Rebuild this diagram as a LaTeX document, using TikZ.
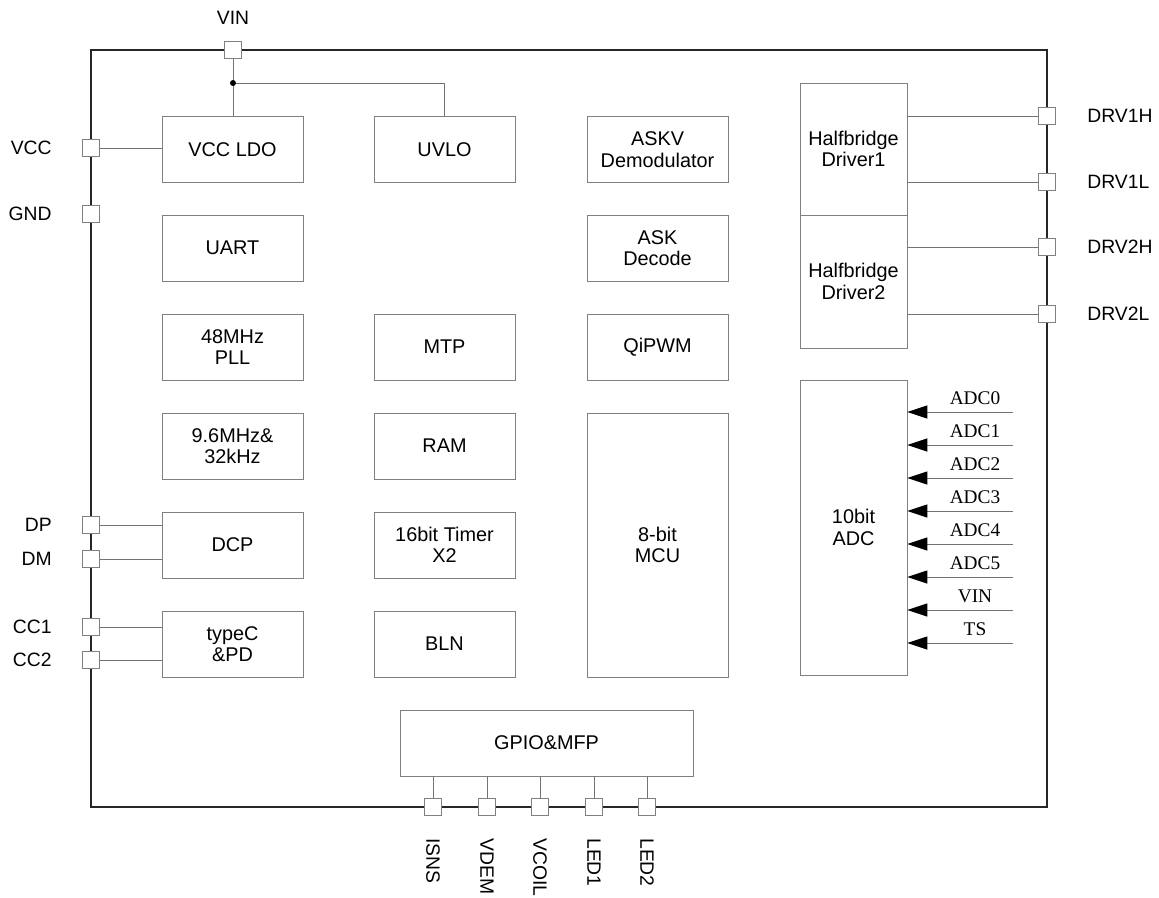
\documentclass[tikz,border=0pt]{standalone}
\usepackage{fontspec}
\setmainfont{Liberation Sans}
\newfontfamily\adcfont{Liberation Serif}
\usetikzlibrary{arrows.meta}
\tikzstyle{blk} = [draw=black!50, fill=white, rectangle, minimum width=2.82cm,
minimum height=1.32cm, inner sep=1pt, align=center, font=\fontsize{11.3}{12.2}\selectfont]
\tikzstyle{pin} = [draw=black!50, fill=white, rectangle, minimum size=0.34cm, inner sep=0pt]
\tikzstyle{wire} = [draw=black!55, line width=0.5pt]
\tikzstyle{pinlabel} = [font=\fontsize{11}{12}\selectfont, inner sep=0pt]

\begin{document}
\begin{tikzpicture}[x=0.02cm, y=-0.02cm]
        \useasboundingbox (0,0) rectangle (1159,898);
        % chip outline
        \draw[line width=1.1pt, black!85] (91,50) rectangle (1047,807);

        % blocks
        \node[blk] (ldo) at (232.5,149.5) {VCC LDO};
        \node[blk] (uvlo) at (444.5,149.5) {UVLO};
        \node[blk] (askv) at (657.5,149.5) {ASKV\\Demodulator};
        \node[blk] (uart) at (232.5,248) {UART};
        \node[blk] (askd) at (657.5,248) {ASK\\Decode};
        \node[blk] (pll) at (232.5,347) {48MHz\\PLL};
        \node[blk] (mtp) at (444.5,347) {MTP};
        \node[blk] (qipwm) at (657.5,347) {QiPWM};
        \node[blk] (osc) at (232.5,446) {9.6MHz\&\\32kHz};
        \node[blk] (ram) at (444.5,446) {RAM};
        \node[blk] (dcp) at (232.5,545) {DCP};
        \node[blk] (timer) at (444.5,545) {16bit Timer\\X2};
        \node[blk] (typec) at (232.5,644) {typeC\\\&PD};
        \node[blk] (bln) at (444.5,644) {BLN};
        \node[blk, minimum height=5.28cm] (mcu) at (657.5,545) {8-bit\\MCU};
        \node[blk, minimum width=2.14cm, minimum height=2.64cm] (drv1) at (853.5,149) {Halfbridge\\Driver1};
        \node[blk, minimum width=2.14cm, minimum height=2.66cm] (drv2) at (853.5,281.5) {Halfbridge\\Driver2};
        \node[blk, minimum width=2.14cm, minimum height=5.9cm] (adc) at (853.5,527.5) {10bit\\ADC};
        \node[blk, minimum width=5.86cm] (gpio) at (546.5,743) {GPIO\&MFP};

        % pins
        \node[pin] (pVIN) at (233,50) {};
        \node[pinlabel] (lVIN) at (233,18) {VIN};
        \foreach \nm/\y in {VCC/148, GND/214, DP/525, DM/559, CC1/627, CC2/660} {
            \node[pin] (p\nm) at (91,\y) {};
            \node[pinlabel, anchor=east] (l\nm) at (52,\y) {\nm};
        }
        \foreach \nm/\y in {DRV1H/116, DRV1L/182, DRV2H/247, DRV2L/314} {
            \node[pin] (p\nm) at (1047,\y) {};
            \node[pinlabel, anchor=west] (l\nm) at (1087,\y) {\nm};
        }
        \foreach \nm/\x in {ISNS/433, VDEM/487, VCOIL/540, LED1/594, LED2/647} {
            \node[pin] (p\nm) at (\x,807) {};
            \node[pinlabel, anchor=west, rotate=-90] (l\nm) at (\x,838) {\nm};
        }

        % supply
        \coordinate (jn) at (233,83);
        \draw[wire] (pVIN.south) -- (pVIN.south |- ldo.north);
        \draw[wire] (jn) -| (uvlo.north);
        \fill (jn) circle (1.7pt);

        % pin wires
        \draw[wire] (pVCC.east) -- (pVCC.east -| ldo.west);
        \foreach \nm in {DP, DM}
            \draw[wire] (p\nm.east) -- (p\nm.east -| dcp.west);
        \foreach \nm in {CC1, CC2}
            \draw[wire] (p\nm.east) -- (p\nm.east -| typec.west);
        \foreach \nm in {DRV1H, DRV1L}
            \draw[wire] (p\nm.west -| drv1.east) -- (p\nm.west);
        \foreach \nm in {DRV2H, DRV2L}
            \draw[wire] (p\nm.west -| drv2.east) -- (p\nm.west);
        \foreach \nm in {ISNS, VDEM, VCOIL, LED1, LED2}
            \draw[wire] (p\nm.north) -- (p\nm.north |- gpio.south);

        % adc inputs
        \foreach \nm [count=\i from 0] in {ADC0,ADC1,ADC2,ADC3,ADC4,ADC5,VIN,TS} {
            \coordinate (a\i) at (1013,{412+33*\i});
            \draw[wire, -{Triangle[length=0.4cm, width=0.26cm, color=black]}] (a\i) -- (a\i -| adc.east);
            \node[font=\adcfont\fontsize{11}{12}\selectfont, inner sep=0pt] (t\i) at (975,{398+33*\i}) {\nm};
        }
\end{tikzpicture}
\end{document}
